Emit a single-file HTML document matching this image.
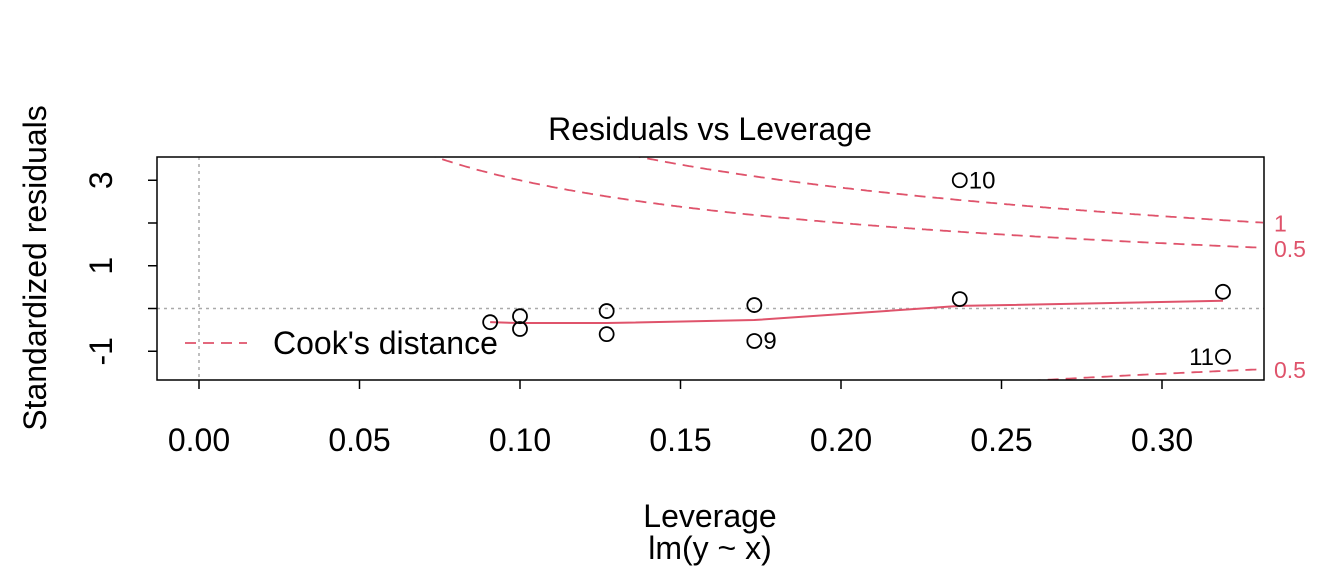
<!DOCTYPE html>
<html><head><meta charset="utf-8"><style>
html,body{margin:0;padding:0;background:#fff;overflow:hidden;width:1344px;height:576px;}
svg{display:block;font-family:"Liberation Sans",Arial,sans-serif;}
</style></head><body>
<svg width="1344" height="576" viewBox="0 0 1344 576">
<g id="g"></g>
</svg>
<script>
const hVals=[0.0907,0.1,0.1,0.127,0.127,0.173,0.173,0.237,0.237,0.319,0.319];
const rVals=[-0.32,-0.18,-0.48,-0.06,-0.6,0.08,-0.76,0.22,3.0,0.39,-1.13];
const ptLabels=["","","","","","","9","","10","","11"];
const smoothH=[0.0907,0.1,0.127,0.173,0.237,0.319];
const smoothR=[-0.32,-0.34,-0.34,-0.27,0.06,0.18];
const xTicks=[0,0.05,0.1,0.15,0.2,0.25,0.3];
const xTickLabels=["0.00","0.05","0.10","0.15","0.20","0.25","0.30"];
const yTicks=[-1,0,1,2,3];
const yTickLabels=["-1","","1","","3"];
const cookLevels=[0.5,1];
const nParams=2;

const L=157,R=1264,T=157,B=380;
const X=h=>199+h*3210;
const Y=r=>308.5-r*42.75;
const g=document.getElementById('g');
const NS='http://www.w3.org/2000/svg';
function mk(tag,attrs,parent){const e=document.createElementNS(NS,tag);for(const k in attrs)e.setAttribute(k,attrs[k]);(parent||g).appendChild(e);return e;}
function txt(s,attrs){const e=mk('text',attrs);e.textContent=s;return e;}

const defs=mk('defs',{});
const cp=mk('clipPath',{id:'clip'},defs);mk('rect',{x:L,y:T,width:R-L,height:B-T},cp);
const plot=mk('g',{'clip-path':'url(#clip)'});

let e;
e=mk('line',{x1:X(0),x2:X(0),y1:T,y2:B,stroke:'#aaa','stroke-width':1.5,'stroke-dasharray':'3,4'},plot);


e=mk('line',{x1:L,x2:R,y1:Y(0),y2:Y(0),stroke:'#aaa','stroke-width':1.5,'stroke-dasharray':'3,4'},plot);



cookLevels.forEach(c=>{
  [1,-1].forEach(sg=>{
    let d='';
    for(let px=L;px<=R;px+=2){const h=(px-199)/3210;if(h<=0.01)continue;const r=sg*Math.sqrt(c*nParams*(1-h)/h);d+=(d?'L':'M')+px+','+Y(r).toFixed(1);}
    e=mk('path',{d:d,fill:'none',stroke:'#DF536B','stroke-width':1.8,'stroke-dasharray':'11,7'},plot);
    
    
  });
});

e=mk('polyline',{points:smoothH.map((h,i)=>X(h)+','+Y(smoothR[i])).join(' '),fill:'none',stroke:'#DF536B','stroke-width':2},plot);



hVals.forEach((h,i)=>{
  const c=mk('circle',{cx:X(h),cy:Y(rVals[i]),r:7,fill:'none',stroke:'#000','stroke-width':1.8});
  
  
  if(ptLabels[i]){
    const left=ptLabels[i]==='11';
    const t=txt(ptLabels[i],{x:left?X(h)-9:X(h)+9,y:Y(rVals[i])+8,'font-size':24,'text-anchor':left?'end':'start'});
    
    
  }
});

[[1,"1"],[0.5,"0.5"],[0.5,"0.5"]].forEach(([c,s],i)=>{
  const h=(R-199)/3210;const r=(i<2?1:-1)*Math.sqrt(c*nParams*(1-h)/h);
  const t=txt(s,{x:1274,y:Y(r)+9,'font-size':23,fill:'#DF536B'});
  
  
});

e=mk('rect',{x:L,y:T,width:R-L,height:B-T,fill:'none',stroke:'#000','stroke-width':1.5});



xTicks.forEach((v,i)=>{
  const l=mk('line',{x1:X(v),x2:X(v),y1:B,y2:B+9,stroke:'#000','stroke-width':1.5});
  
  
  const t=txt(xTickLabels[i],{x:X(v),y:451,'font-size':32,'text-anchor':'middle'});
  
  
});
yTicks.forEach((v,i)=>{
  const l=mk('line',{x1:L-9,x2:L,y1:Y(v),y2:Y(v),stroke:'#000','stroke-width':1.5});
  
  
  if(yTickLabels[i]){
    const t=txt(yTickLabels[i],{x:0,y:0,'font-size':32,'text-anchor':'middle',transform:`translate(112,${Y(v)}) rotate(-90)`});
    
    
  }
});

e=mk('line',{x1:185,x2:247,y1:343,y2:343,stroke:'#DF536B','stroke-width':1.8,'stroke-dasharray':'11,7'});


e=txt("Cook's distance",{x:273,y:354,'font-size':32});



e=txt("Residuals vs Leverage",{x:710,y:140,'font-size':32,'text-anchor':'middle'});


e=txt("Leverage",{x:710,y:527,'font-size':32,'text-anchor':'middle'});


e=txt("lm(y ~ x)",{x:710,y:559,'font-size':32,'text-anchor':'middle'});


e=txt("Standardized residuals",{x:0,y:0,'font-size':32,'text-anchor':'middle',transform:'translate(46,268) rotate(-90)'});


</script>
</body></html>
